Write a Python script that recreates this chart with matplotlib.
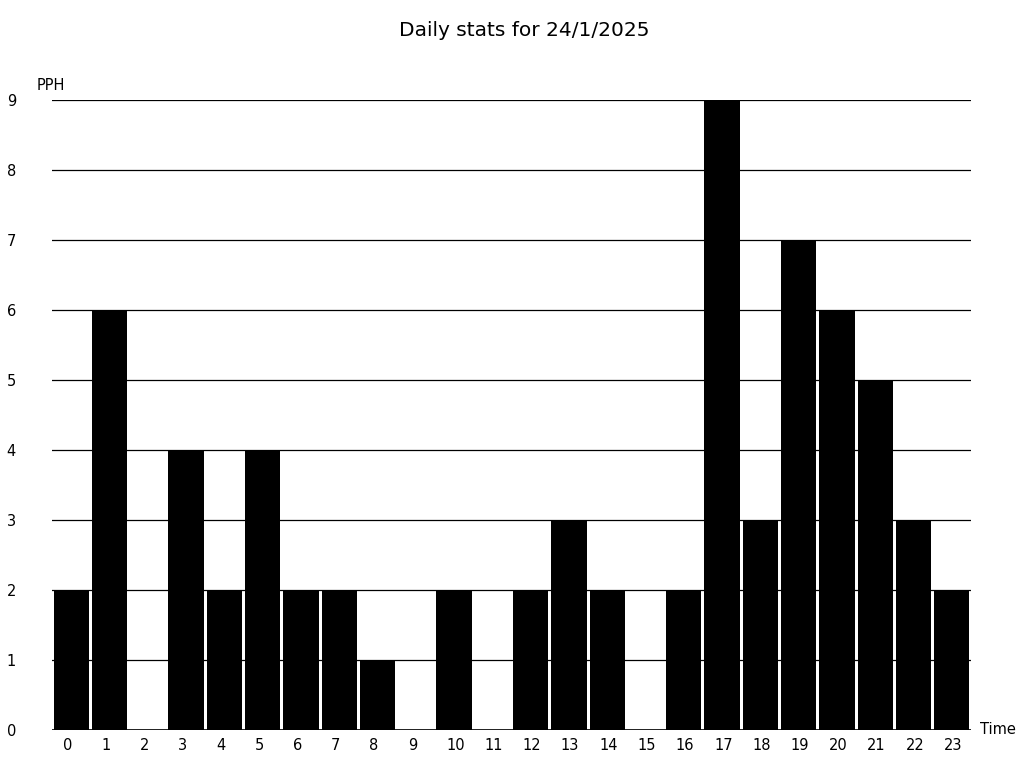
import matplotlib
matplotlib.use("Agg")
import matplotlib.pyplot as plt
from matplotlib.transforms import ScaledTranslation

hours = list(range(24))
pph = [2, 6, 0, 4, 2, 4, 2, 2, 1, 0, 2, 0, 2, 3, 2, 0, 2, 9, 3, 7, 6, 5, 3, 2]
title = "Daily stats for 24/1/2025"
y_label = "PPH"
x_label = "Time"

fig = plt.figure(figsize=(10.24, 7.68), dpi=100)
ax = fig.add_axes([52/1024, 1-730/768, (971-52)/1024, 630/768])

ax.set_axisbelow(True)
ax.bar(hours, pph, width=0.92, color="black", edgecolor="none", zorder=2)
ax.set_xlim(-0.5, 23.5)
ax.set_ylim(0, 9)
ax.set_yticks(range(0, 10))
ax.set_xticks(hours)
ax.set_xticklabels([str(h) for h in hours])
for s in ax.spines.values():
    s.set_visible(False)
ax.yaxis.grid(True, color="black", linewidth=0.9)
ax.axhline(0, color="black", linewidth=1.2, zorder=3)
ax.tick_params(axis="both", length=0, labelsize=10.5)
ax.tick_params(axis="y", pad=26)
ax.tick_params(axis="x", pad=6)

offset = ScaledTranslation(-8/100, 0, fig.dpi_scale_trans)
for lbl in ax.get_xticklabels():
    lbl.set_horizontalalignment("left")
    lbl.set_transform(lbl.get_transform() + offset)

fig.text(400/1024 + 124/1024, 1-30/768, title, ha="center", va="center", fontsize=14.5)
fig.text(37/1024, 1-85/768, y_label, ha="left", va="center", fontsize=10.5)
fig.text(980/1024, 1-730/768, x_label, ha="left", va="center", fontsize=10.5)

fig.savefig("out.png", dpi=100)
